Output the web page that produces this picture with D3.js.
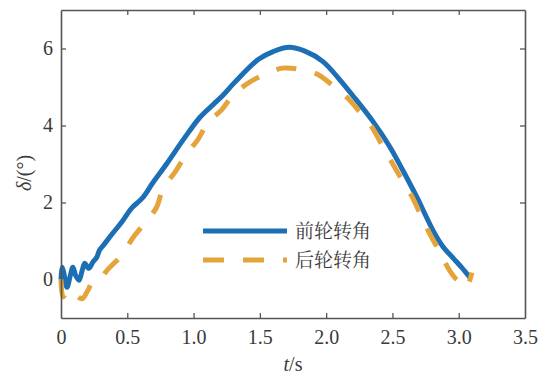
<!DOCTYPE html>
<html>
<head>
<meta charset="utf-8">
<script src="https://cdn.jsdelivr.net/npm/d3@7"></script>
</head>
<body style="margin:0">
<svg id="chart" width="543" height="375"></svg>
<script>
// Front wheel steering angle (deg) over time (s)
const frontT = [0, 0.008, 0.02, 0.045, 0.07, 0.09, 0.11, 0.136, 0.16, 0.18, 0.21, 0.24, 0.27, 0.29, 0.32, 0.39, 0.46, 0.52, 0.54, 0.62, 0.69, 0.8, 0.92, 1.05, 1.15, 1.22, 1.31, 1.49, 1.6, 1.72, 1.84, 1.976, 2.1, 2.2, 2.35, 2.48, 2.63, 2.69, 2.81, 2.88, 2.96, 3.02, 3.085];
const frontV = [0, 0.32, 0.19, -0.2, 0.1, 0.32, 0.11, -0.02, 0.24, 0.42, 0.29, 0.45, 0.58, 0.76, 0.89, 1.2, 1.5, 1.8, 1.88, 2.14, 2.5, 3.02, 3.62, 4.22, 4.55, 4.78, 5.12, 5.72, 5.92, 6.03, 5.93, 5.66, 5.2, 4.78, 4.12, 3.45, 2.5, 2.1, 1.25, 0.86, 0.55, 0.32, 0.05];

// Rear wheel steering angle (deg) over time (s)
const rearT = [0, 0.015, 0.04, 0.07, 0.1, 0.13, 0.16, 0.2, 0.24, 0.29, 0.35, 0.4, 0.46, 0.54, 0.63, 0.72, 0.77, 0.86, 0.95, 1.03, 1.11, 1.21, 1.3, 1.42, 1.55, 1.67, 1.8, 1.93, 2.05, 2.16, 2.26, 2.35, 2.43, 2.5, 2.57, 2.65, 2.72, 2.78, 2.87, 2.92, 2.97, 3.02, 3.06, 3.08, 3.1];
const rearV = [0, -0.45, -0.35, -0.28, -0.3, -0.45, -0.5, -0.3, -0.05, 0.0, 0.25, 0.42, 0.63, 1.07, 1.46, 1.87, 2.37, 2.79, 3.28, 3.62, 4.09, 4.4, 4.8, 5.12, 5.35, 5.49, 5.46, 5.34, 5.04, 4.72, 4.32, 3.93, 3.43, 3.02, 2.6, 2.14, 1.62, 1.2, 0.63, 0.3, 0.05, -0.1, -0.2, -0.05, 0.18];

const xTicks = [0, 0.5, 1.0, 1.5, 2.0, 2.5, 3.0, 3.5];
const xTickLabels = ["0", "0.5", "1.0", "1.5", "2.0", "2.5", "3.0", "3.5"];
const yTicks = [0, 2, 4, 6];
const seriesNames = ["前轮转角", "后轮转角"];

const blue = "#1c6fb4";
const orange = "#e4a43b";
const axisColor = "#555";
const textColor = "#3a3a3a";
const serif = '"Liberation Serif"';
const cjk = '"Noto Serif CJK SC"';

const margin = { left: 61, right: 18, top: 10, bottom: 57 };
const W = 543, H = 375;
const pw = W - margin.left - margin.right;
const ph = H - margin.top - margin.bottom;

const svg = d3.select("#chart");
const g = svg.append("g").attr("transform", `translate(${margin.left},${margin.top})`);

const x = d3.scaleLinear().domain([0, 3.5]).range([0, pw]);
const y = d3.scaleLinear().domain([-1, 7]).range([ph, 0]);

const line = d3.line()
  .x(d => x(d[0]))
  .y(d => y(d[1]))
  .curve(d3.curveCatmullRom.alpha(0.5));

const frontData = frontT.map((t, i) => [t, frontV[i]]);
const rearData = rearT.map((t, i) => [t, rearV[i]]);

g.append("path")
  .datum(frontData)
  .attr("d", line)
  .attr("fill", "none")
  .attr("stroke", blue)
  .attr("stroke-width", 5)
  .attr("stroke-linejoin", "round");

g.append("path")
  .datum(rearData)
  .attr("d", line)
  .attr("fill", "none")
  .attr("stroke", orange)
  .attr("stroke-width", 5)
  .attr("stroke-dasharray", "20,19");

// Axes: ticks point inward on all four sides
const tickLen = 5;
const bottomAxis = d3.axisBottom(x).tickValues(xTicks).tickFormat((d, i) => xTickLabels[i])
  .tickSizeInner(-tickLen).tickSizeOuter(0).tickPadding(12);
const topAxis = d3.axisTop(x).tickValues(xTicks).tickFormat("")
  .tickSizeInner(-tickLen).tickSizeOuter(0);
const leftAxis = d3.axisLeft(y).tickValues(yTicks).tickFormat(d3.format("d"))
  .tickSizeInner(-tickLen).tickSizeOuter(0).tickPadding(8);
const rightAxis = d3.axisRight(y).tickValues(yTicks).tickFormat("")
  .tickSizeInner(-tickLen).tickSizeOuter(0);

function styleAxis(sel) {
  sel.attr("font-family", serif).attr("font-size", 20);
  sel.select(".domain").attr("stroke", axisColor).attr("stroke-width", 1.6);
  sel.selectAll(".tick line").attr("stroke", axisColor).attr("stroke-width", 1.3);
  sel.selectAll(".tick text").attr("fill", textColor)
    .style("font-family", serif).style("font-size", "20px");
}

g.append("g").attr("transform", `translate(0,${ph})`).call(bottomAxis).call(styleAxis);
g.append("g").call(topAxis).call(styleAxis);
g.append("g").call(leftAxis).call(styleAxis);
g.append("g").attr("transform", `translate(${pw},0)`).call(rightAxis).call(styleAxis);

g.selectAll(".tick line").filter(d => d === 0 || d === 3.5).remove();

// Axis titles
const xt = svg.append("text")
  .attr("x", margin.left + pw / 2)
  .attr("y", 371)
  .attr("text-anchor", "middle")
  .attr("fill", textColor)
  .style("font-family", serif)
  .style("font-size", "20px");
xt.append("tspan").style("font-style", "italic").text("t");
xt.append("tspan").text("/s");

const yt = svg.append("text")
  .attr("transform", "translate(31,173) rotate(-90)")
  .attr("text-anchor", "middle")
  .attr("fill", textColor)
  .style("font-family", serif)
  .style("font-size", "20px");
yt.append("tspan").style("font-style", "italic").text("δ");
yt.append("tspan").text("/(°)");

// Legend
const legend = svg.append("g").attr("transform", "translate(203,231)");
const legendRows = [
  { name: seriesNames[0], color: blue, dash: null },
  { name: seriesNames[1], color: orange, dash: "21,19" }
];
legendRows.forEach((r, i) => {
  const row = legend.append("g").attr("transform", `translate(0,${i * 29})`);
  row.append("line")
    .attr("x1", 0).attr("x2", 84).attr("y1", 0).attr("y2", 0)
    .attr("stroke", r.color).attr("stroke-width", 5)
    .attr("stroke-dasharray", r.dash);
  row.append("text")
    .attr("x", 92).attr("y", 0).attr("dy", "0.36em")
    .attr("fill", textColor)
    .style("font-family", cjk).style("font-size", "19px")
    .text(r.name);
});
</script>
</body>
</html>
